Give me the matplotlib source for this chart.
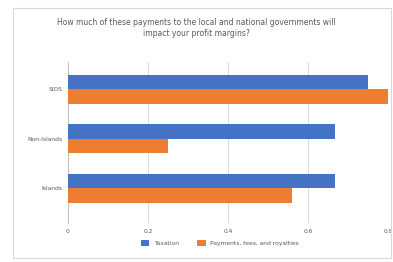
import matplotlib.pyplot as plt
import numpy as np

categories = ["Islands", "Non-Islands", "SIDS"]
taxation = [0.667, 0.667, 0.75]
payments = [0.56, 0.25, 0.81]
series_names = ["Taxation", "Payments, fees, and royalties"]
xticks = [0, 0.2, 0.4, 0.6, 0.8]

fig = plt.figure(figsize=(3.93, 2.62), dpi=100)
# outer chart border
fig.patches.append(plt.Rectangle((13 / 393, 4 / 262), 378 / 393, 250 / 262, transform=fig.transFigure,
                                 fill=False, edgecolor="#d9d9d9", linewidth=0.8))
ax = fig.add_axes([68 / 393, 1 - 223 / 262, 320 / 393, 161 / 262])

y = np.arange(len(categories))
h = 0.29
ax.barh(y + h / 2, taxation, height=h, color="#4472C4", label=series_names[0], zorder=3)
ax.barh(y - h / 2, payments, height=h, color="#ED7D31", label=series_names[1], zorder=3)

ax.set_xlim(0, 0.8)
ax.set_ylim(-0.7, 2.55)
ax.set_xticks(xticks)
ax.set_xticklabels(["0", "0.2", "0.4", "0.6", "0.8"])
ax.set_yticks(y)
ax.set_yticklabels(categories)
ax.tick_params(labelsize=4.3, colors="#595959", length=0, pad=4)
ax.grid(axis="x", color="#d9d9d9", linewidth=0.7, zorder=0)
for s in ["top", "right", "bottom"]:
    ax.spines[s].set_visible(False)
ax.spines["left"].set_color("#bfbfbf")
ax.spines["left"].set_linewidth(0.7)

fig.text(0.5, 1 - 28 / 262, "How much of these payments to the local and national governments will\nimpact your profit margins?",
         ha="center", va="center", fontsize=5.5, color="#595959", linespacing=1.4)

fig.legend(loc="center", bbox_to_anchor=(0.56, 1 - 243 / 262), ncol=2, frameon=False,
           fontsize=4.3, handlelength=1.4, handleheight=1.4, columnspacing=3, labelcolor="#595959")

fig.savefig("out.png", dpi=100)
